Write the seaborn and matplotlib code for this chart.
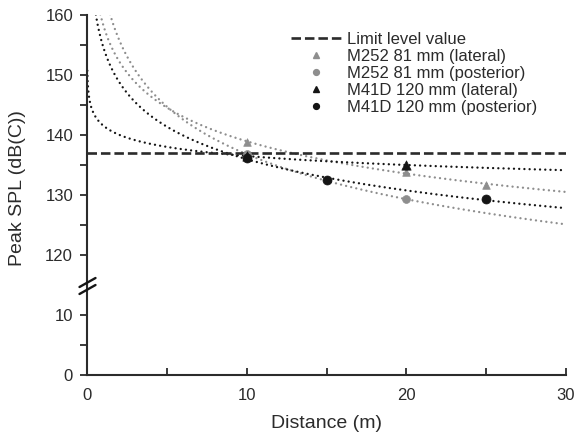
import numpy as np
import pandas as pd
import matplotlib
matplotlib.use("Agg")
import matplotlib.pyplot as plt
from matplotlib.lines import Line2D
from matplotlib.ticker import MultipleLocator, FixedLocator
import seaborn as sns

# ---------------- data ----------------
limit_level = 137
limit_label = "Limit level value"

series_names = ["M252 81 mm (lateral)", "M252 81 mm (posterior)",
                "M41D 120 mm (lateral)", "M41D 120 mm (posterior)"]

m252_lat_x = [10, 20, 25]
m252_lat_y = [138.9, 133.8, 131.7]
m252_post_x = [10, 20]
m252_post_y = [136.8, 129.3]
m41d_lat_x = [10, 20]
m41d_lat_y = [136.5, 135.0]
m41d_post_x = [10, 15, 25]
m41d_post_y = [136.2, 132.5, 129.3]

x_ticks = [0, 10, 20, 30]
upper_yticks = [120, 130, 140, 150, 160]
lower_yticks = [0, 10]

# ---------------- style ----------------
sns.set_theme(style="ticks")
plt.rcParams["font.family"] = ["Liberation Sans", "DejaVu Sans"]
INK = "#2b2b2b"
GREY = "#8e8e8e"
BLACK = "#151515"

series = [
    (series_names[0], m252_lat_x, m252_lat_y, GREY, "^", 30),
    (series_names[1], m252_post_x, m252_post_y, GREY, "o", 32),
    (series_names[2], m41d_lat_x, m41d_lat_y, BLACK, "^", 45),
    (series_names[3], m41d_post_x, m41d_post_y, BLACK, "o", 42),
]

W, H = 578, 434
fig = plt.figure(figsize=(W / 100, H / 100), dpi=100)
left, right = 87 / W, 566 / W
y160, ybrk, y0 = 15, 285, 375
ax_top = fig.add_axes([left, 1 - ybrk / H, right - left, (ybrk - y160) / H])
ax_bot = fig.add_axes([left, 1 - y0 / H, right - left, (y0 - ybrk) / H], sharex=ax_top)
for ax in (ax_top, ax_bot):
    ax.set_facecolor("none")

# trend curves (power-law fits of each series)
xs = np.geomspace(0.02, 30, 600)
for name, x, y, col, mk, s in series:
    coef = np.polyfit(np.log(x), np.log(y), 1)
    fit = pd.DataFrame({"x": xs, "y": np.exp(np.polyval(coef, np.log(xs)))})
    sns.lineplot(data=fit, x="x", y="y", ax=ax_top, color=col, lw=1.7,
                 linestyle=(0, (0.01, 2.2)), dash_capstyle="round", legend=False)

# limit line
ax_top.axhline(limit_level, color=INK, lw=1.9, linestyle=(0, (3.6, 1.5)), zorder=3)

# markers
for name, x, y, col, mk, s in series:
    df = pd.DataFrame({"x": x, "y": y})
    sns.scatterplot(data=df, x="x", y="y", ax=ax_top, color=col, marker=mk,
                    s=s, edgecolor=col, linewidth=0.5, zorder=4, legend=False)

# ---------------- axes ----------------
ax_top.set_xlim(0, 30)
ax_top.set_ylim(115, 160)
ax_bot.set_ylim(0, 15)

for sp in ("top", "right", "bottom"):
    ax_top.spines[sp].set_visible(False)
for sp in ("top", "right"):
    ax_bot.spines[sp].set_visible(False)
for ax in (ax_top, ax_bot):
    for sp in ax.spines.values():
        sp.set_color(INK)
        sp.set_linewidth(1.5)

ax_top.yaxis.set_major_locator(FixedLocator(upper_yticks))
ax_top.yaxis.set_minor_locator(FixedLocator([125, 135, 145, 155]))
ax_bot.yaxis.set_major_locator(FixedLocator(lower_yticks))
ax_bot.yaxis.set_minor_locator(FixedLocator([5]))
ax_bot.xaxis.set_major_locator(FixedLocator(x_ticks))
ax_bot.xaxis.set_minor_locator(MultipleLocator(5))

ax_top.tick_params(axis="x", which="both", bottom=False, labelbottom=False)
for ax in (ax_top, ax_bot):
    ax.tick_params(axis="y", which="both", direction="out", length=5, width=1.3,
                   color=INK, labelsize=12, labelcolor=INK, pad=5)
ax_bot.tick_params(axis="x", which="both", direction="in", length=5, width=1.3,
                   color=INK, labelsize=12, labelcolor=INK, pad=9)
ax_top.set_xlabel("")
ax_top.set_ylabel("")
ax_bot.set_ylabel("")
ax_bot.set_xlabel("Distance (m)", fontsize=14, color=INK, labelpad=9)

fig.text(18 / W, 1 - 188 / H, "Peak SPL (dB(C))", rotation=90, ha="center",
         va="center", fontsize=14, color=INK)

# axis break marks
for cy in (282.5, 289.5):
    fig.add_artist(Line2D([79.5 / W, 95.5 / W], [1 - (cy + 4.5) / H, 1 - (cy - 4.5) / H],
                          transform=fig.transFigure, color=BLACK, lw=1.7))

# legend
handles = [Line2D([], [], color=INK, lw=1.9, linestyle=(0, (3.6, 1.5)))]
for name, x, y, col, mk, s in series:
    handles.append(Line2D([], [], color=col, marker=mk, linestyle="none",
                          markersize=4.5 if mk == "^" else 4.2))
labels = [limit_label] + series_names
leg = ax_top.legend(handles, labels, loc="upper left",
                    bbox_to_anchor=(291 / W, 1 - 32 / H), bbox_transform=fig.transFigure,
                    frameon=False, fontsize=12, handlelength=3.0, handletextpad=0.35,
                    labelspacing=0.12, borderpad=0, borderaxespad=0)
for t in leg.get_texts():
    t.set_color(INK)

fig.savefig("out.png", dpi=100)
